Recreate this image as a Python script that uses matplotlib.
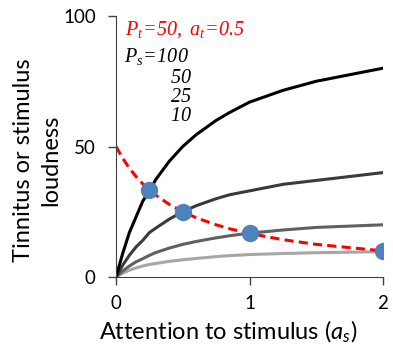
import matplotlib
matplotlib.use('Agg')
import matplotlib.pyplot as plt

# attention values (x) and loudness
attention = [0, 0.05, 0.1, 0.15, 0.2, 0.25, 0.3, 0.4, 0.5, 0.6, 0.75, 0.85, 1, 1.25, 1.5, 2]
ps100 = [0, 9, 17, 23, 29, 33, 37.5, 44.4, 50, 54.5, 60, 63, 67, 71.5, 75, 80]
ps50 = [0, 4.5, 8.3, 11.5, 14, 17, 18.8, 22.2, 25, 27.3, 30, 31.5, 33, 35.5, 37, 40]
ps25 = [0, 2.3, 4.2, 5.8, 7, 8.3, 9.4, 11.1, 12.5, 13.6, 15, 15.8, 16.8, 18, 19, 20]
ps10 = [0, 1.5, 2.6, 3.5, 4.2, 4.8, 5.2, 6, 6.6, 7.1, 7.8, 8.2, 8.6, 9, 9.3, 9.7]
tinnitus = [50, 45.5, 41.7, 38.5, 35.7, 33.3, 31.3, 27.8, 25, 22.7, 20, 18.5, 16.7, 14.3, 12.5, 10]

# intersection points
pt_x = [0.25, 0.5, 1, 2]
pt_y = [33.3, 25, 16.7, 10]

plt.rcParams['font.family'] = 'Lato'
plt.rcParams['mathtext.fontset'] = 'custom'
plt.rcParams['mathtext.rm'] = 'Liberation Serif:italic'
plt.rcParams['mathtext.it'] = 'Liberation Serif:italic'
plt.rcParams['mathtext.sf'] = 'Lato:italic'

fig = plt.figure(figsize=(3.93, 3.45), dpi=100)
ax = fig.add_axes([116 / 393, 68 / 345, 267 / 393, 261 / 345])

ax.plot(attention, ps10, color='#a6a6a6', lw=2.2, solid_capstyle='round')
ax.plot(attention, ps25, color='#606060', lw=2.2, solid_capstyle='round')
ax.plot(attention, ps50, color='#3a3a3a', lw=2.2, solid_capstyle='round')
ax.plot(attention, ps100, color='black', lw=2.2, solid_capstyle='round')
ax.plot(attention, tinnitus, color='#ff0000', lw=2.2, dashes=(3, 1.7))
ax.plot(pt_x, pt_y, 'o', color='#4f81bd', markersize=11.5, zorder=5)

ax.set_xlim(0, 2)
ax.set_ylim(0, 100)
ax.set_xticks([0, 1, 2])
ax.set_yticks([0, 50, 100])
for s in ['top', 'right']:
    ax.spines[s].set_visible(False)
for s in ['left', 'bottom']:
    ax.spines[s].set_color('#404040')
ax.tick_params(labelsize=13.5, color='#404040', length=6, width=1)
ax.tick_params(axis='x', pad=7)
ax.tick_params(axis='y', pad=8.5)

# axis titles placed like the original
fig.text(228 / 393, 1 - 332 / 345, r'Attention to stimulus ($\mathsf{a_s}$)',
         fontsize=17, ha='center', va='center')
fig.text(37 / 393, 1 - 160 / 345, 'Tinnitus or stimulus\nloudness', fontsize=17,
         rotation=90, ha='center', va='center', multialignment='center', linespacing=1.35)

ax.text(0.067, 94.7, r'$P_t\!=\!50,\ a_t\!=\!0.5$', color='#ff0000', fontsize=14.5, va='center', ha='left')
ax.text(0.06, 84.3, r'$P_s\!=\!100$', color='black', fontsize=14.5, va='center', ha='left')
ax.text(0.567, 76.7, r'$50$', fontsize=14.5, va='center', ha='right')
ax.text(0.567, 69.4, r'$25$', fontsize=14.5, va='center', ha='right')
ax.text(0.567, 62.1, r'$10$', fontsize=14.5, va='center', ha='right')

fig.savefig('out.png', dpi=100)
